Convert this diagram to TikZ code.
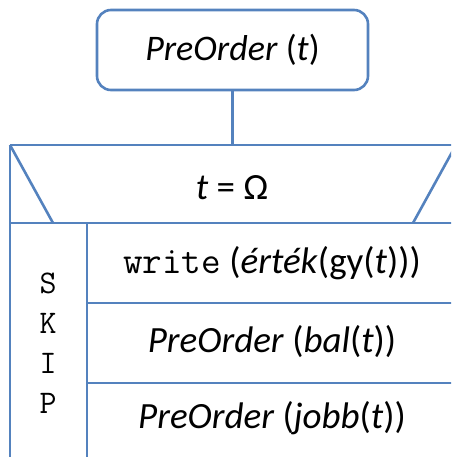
\documentclass[tikz,border=0pt]{standalone}
\usepackage{fontspec}
\setmainfont{Carlito}
\definecolor{nsblue}{RGB}{84,130,190}
\newcommand{\monotext}[1]{{\fontsize{38}{42}\selectfont\ttfamily #1}}
\begin{document}
\begin{tikzpicture}[x=1pt,y=-1pt,
  nsline/.style={draw=nsblue,line width=2.6pt},
  txt/.style={font=\fontsize{37}{44}\selectfont,inner sep=0pt},
  mono/.style={font=\fontsize{33}{40}\selectfont\ttfamily,inner sep=0pt,align=center},
  startbox/.style={nsline,rounded corners=14pt,minimum width=271pt,minimum height=80pt,inner sep=0pt,font=\fontsize{36}{43}\selectfont}]
\useasboundingbox (0,0) rectangle (451,457);
\clip (0,0) rectangle (451,457);
% start box
\node[startbox] (start) at (232.5,50) {\textit{PreOrder} (\textit{t})};
\coordinate (condtop) at (232.5,145);
\draw[nsline] (start.south) -- (condtop);
% condition trapezoid
\draw[nsline] (10,145) -- (480,145);
\draw[nsline] (10,223) -- (480,223);
\draw[nsline] (10,145) -- (53,223);
\draw[nsline] (456,145) -- (413,223);
\node[txt] (cond) at (232,188) {\textit{t} = Ω};
% outer left edge and skip column
\draw[nsline] (10,145) -- (10,480);
\draw[nsline] (87,223) -- (87,480);
\node[mono] (skip) at (48,343) {S\\K\\I\\P};
% rows
\draw[nsline] (87,303) -- (480,303);
\draw[nsline] (87,383) -- (480,383);
\node[txt] (row1) at (272,263) {\monotext{write} (\textit{érték}(gy(\textit{t})))};
\node[txt] (row2) at (272,342) {\textit{PreOrder} (\textit{bal}(\textit{t}))};
\node[txt] (row3) at (272,418) {\textit{PreOrder} (\textit{jobb}(\textit{t}))};
\end{tikzpicture}
\end{document}
